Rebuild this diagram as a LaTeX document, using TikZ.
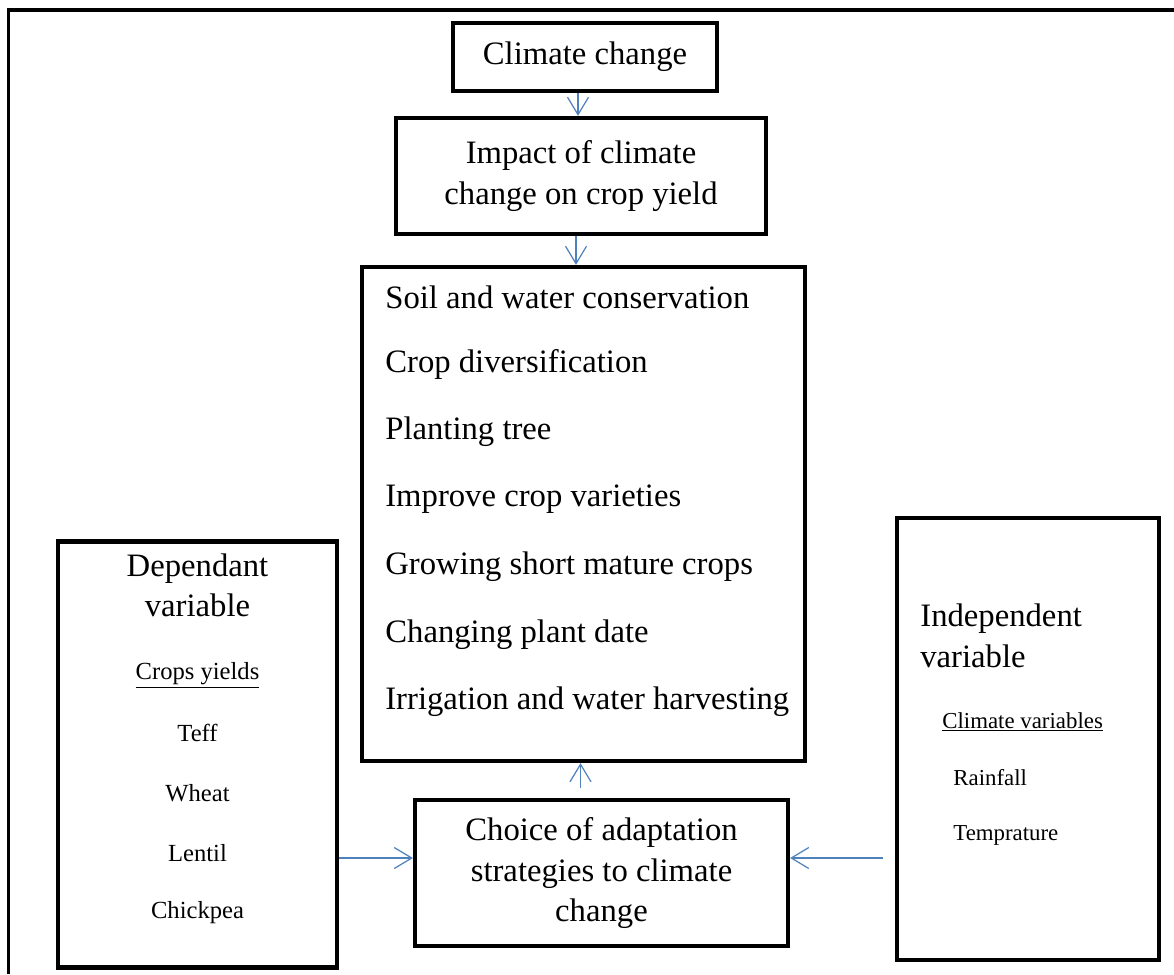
\documentclass[tikz,border=0pt]{standalone}
\usepackage{fontspec}
\setmainfont{Liberation Serif}
\usepackage{tikz}
\usetikzlibrary{arrows.meta, calc}
\definecolor{flowblue}{RGB}{79,129,189}
\tikzset{box/.style={rectangle, draw, line width=2.4pt, align=center}}
\tikzset{flow/.style={draw=flowblue, line width=0.7pt, -{Straight Barb[length=3.5mm, width=4.2mm]}}}
\tikzset{bigtext/.style={font=\fontsize{18.6}{23}\selectfont}}
\tikzset{smalltext/.style={font=\fontsize{14}{17}\selectfont}}
\tikzset{tinytext/.style={font=\fontsize{13}{16}\selectfont}}

\begin{document}
\begin{tikzpicture}
    \useasboundingbox (0,0) rectangle (23.48,-19.48);
    \draw [line width=2.2pt] (0.17,-19.48) |- (23.48,-0.2);

    \node [box, bigtext,
    minimum width = 5.28cm,
    minimum height = 1.36cm] (climate) at (11.7,-1.14) {Climate change};

    \node [box, bigtext,
    minimum width = 7.4cm,
    minimum height = 2.32cm] (impact) at (11.62,-3.52) {Impact of climate\\change on crop yield};

    \node [box,
    minimum width = 8.86cm,
    minimum height = 9.88cm] (strat) at (11.67,-10.28) {};

    \foreach \item [count=\i] in {Soil and water conservation, Crop diversification,
        Planting tree, Improve crop varieties, Growing short mature crops,
        Changing plant date, Irrigation and water harvesting}
        \node [bigtext, anchor=west, inner sep=0pt] (strat\i) at (7.7, {-5.94-1.35*(\i-1)}) {\item};

    \node [box, bigtext,
    minimum width = 7.46cm,
    minimum height = 2.92cm] (choice) at (12.03,-17.46) {Choice of adaptation\\strategies to climate\\change};

    % dependant side
    \node [box,
    minimum width = 5.58cm,
    minimum height = 8.52cm] (dep) at (3.95,-15.09) {};
    \node [align=center, font=\fontsize{18.6}{22.7}\selectfont] (depttl) at (3.95,-11.7) {Dependant\\variable};
    \node [smalltext] (cropyld) at (3.95,-13.5) {\underline{Crops yields}};
    \foreach \crop [count=\i] in {Teff, Wheat, Lentil, Chickpea}
        \node [smalltext] (crop\i) at (3.95, {-14.66-1.2*(\i-1)}) {\crop};

    % independent side
    \node [box,
    minimum width = 5.24cm,
    minimum height = 8.84cm] (indep) at (20.56,-14.78) {};
    \node [align=left, anchor=west, inner sep=0pt, bigtext] (indttl) at (18.4,-12.72) {Independent\\variable};
    \node [tinytext, anchor=west, inner sep=0pt] (climvar) at (18.84,-14.44) {\underline{Climate variables}};
    \node [tinytext, anchor=west, inner sep=0pt] (rain) at (19.06,-15.56) {Rainfall};
    \node [tinytext, anchor=west, inner sep=0pt] (temp) at (19.06,-16.7) {Temprature};

    \coordinate (cin1) at ([yshift=.3cm]choice.west);
    \coordinate (cin2) at ([yshift=.3cm]choice.east);

    \draw [flow] ([xshift=-.14cm]climate.south) -- ([xshift=-.14cm]climate.south |- impact.north);
    \draw [flow] ([xshift=-.1cm]impact.south) -- ([xshift=-.1cm]impact.south |- strat.north);
    \draw [flow, shorten <=.2cm] ([xshift=-.06cm]strat.south |- choice.north) -- ([xshift=-.06cm]strat.south);
    \draw [flow] (dep.east |- cin1) -- (cin1);
    \draw [flow, shorten <=.24cm] (indep.west |- cin2) -- (cin2);
\end{tikzpicture}
\end{document}
